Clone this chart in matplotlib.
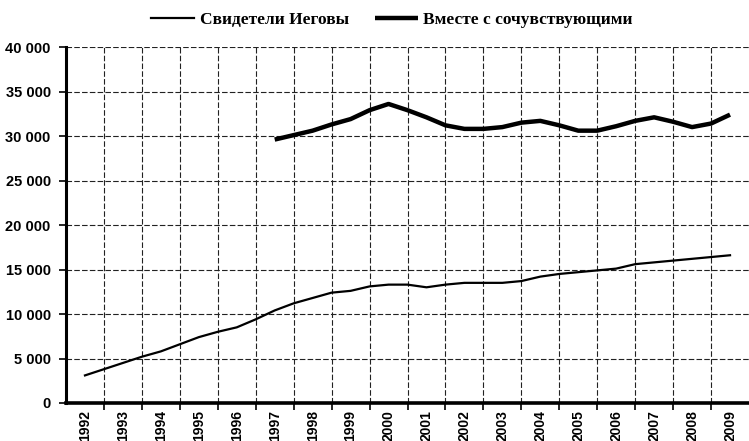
import numpy as np
import matplotlib
matplotlib.use("Agg")
import matplotlib.pyplot as plt

# Half-year readings, 1992 .. 2009
witnesses = [3100, 3800, 4500, 5200, 5800, 6600, 7400, 8000, 8500, 9400,
             10400, 11200, 11800, 12400, 12600, 13100, 13300, 13300, 13000, 13300,
             13500, 13500, 13500, 13700, 14200, 14500, 14700, 14900, 15100, 15600,
             15800, 16000, 16200, 16400, 16600]
# Half-year readings, 1997 .. 2009
with_sympathizers = [29600, 30100, 30600, 31300, 31900, 32900, 33600, 32900, 32100, 31200,
                     30800, 30800, 31000, 31500, 31700, 31200, 30600, 30600, 31100, 31700,
                     32100, 31600, 31000, 31400, 32400]

years = list(range(1992, 2010))
y_ticks = [0, 5000, 10000, 15000, 20000, 25000, 30000, 35000, 40000]
y_labels = ["0", "5 000", "10 000", "15 000", "20 000", "25 000", "30 000", "35 000", "40 000"]
legend_labels = ["Свидетели Иеговы", "Вместе с сочувствующими"]

x_w = 1992 + 0.5 * np.arange(len(witnesses))
x_s = 1997 + 0.5 * np.arange(len(with_sympathizers))

fig = plt.figure(figsize=(7.49, 4.41), dpi=100)
ax = fig.add_axes([66 / 749, 1 - 403 / 441, 1 - 66 / 749, (403 - 47) / 441])

ax.plot(x_w, witnesses, color="black", lw=1.6, solid_joinstyle="round", label=legend_labels[0])
ax.plot(x_s, with_sympathizers, color="black", lw=3.2, solid_joinstyle="round",
        solid_capstyle="butt", label=legend_labels[1])

ax.set_xlim(1991.5, 2009.5)
ax.set_ylim(0, 40000)

# category axis: labels at centres, grid at boundaries
ax.set_xticks(years)
ax.set_xticklabels([str(y) for y in years], rotation=90, fontfamily="Liberation Sans",
                   fontweight="bold", fontsize=10)
ax.set_xticks([y + 0.5 for y in years[:-1]], minor=True)
ax.tick_params(axis="x", which="major", length=0, pad=5)
ax.tick_params(axis="x", which="minor", length=5, width=1.2, direction="out")

ax.set_yticks(y_ticks)
ax.set_yticklabels(y_labels, fontfamily="Liberation Sans", fontweight="bold", fontsize=10.5)
ax.tick_params(axis="y", length=5, width=1.2, direction="out", pad=6)

grid_kw = dict(color="#222222", lw=0.8, linestyle=(0, (5, 2)))
ax.grid(False)
for y in y_ticks[1:]:
    ax.axhline(y, zorder=0, **grid_kw)
for x in [y + 0.5 for y in years[:-1]]:
    ax.axvline(x, zorder=0, **grid_kw)

for side in ["top", "right"]:
    ax.spines[side].set_visible(False)
ax.spines["left"].set_linewidth(2.2)
ax.spines["bottom"].set_linewidth(2.6)

fig.legend(loc="center", bbox_to_anchor=(392 / 749, 1 - 20 / 441), ncol=2, frameon=False,
           prop={"family": "Liberation Serif", "weight": "bold", "size": 12.5},
           handlelength=2.5, handletextpad=0.3, columnspacing=1.5)

fig.savefig("out.png", dpi=100)
